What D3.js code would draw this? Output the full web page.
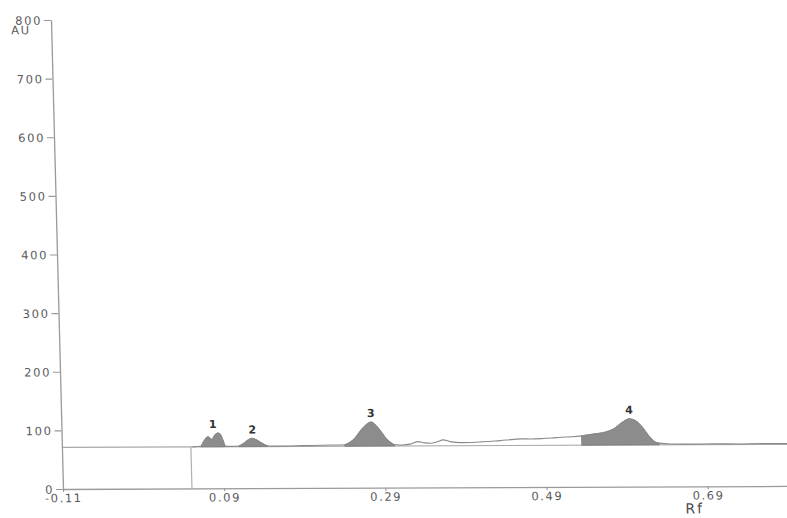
<!DOCTYPE html>
<html>
<head>
<meta charset="utf-8">
<script src="https://cdn.jsdelivr.net/npm/d3@7"></script>
<style>
  html, body { margin: 0; padding: 0; background: #fff; }
  svg { display: block; }
  .tick text, .lbl { font-family: "DejaVu Sans", sans-serif; }
</style>
</head>
<body>
<svg id="chart" width="787" height="518"></svg>
<script>
// Densitometric scan: absorbance (AU) against Rf
const rf = [0.052, 0.0625, 0.066, 0.0715, 0.0745, 0.0765, 0.079, 0.084, 0.087, 0.0905, 0.0925,
  0.100, 0.1096, 0.116, 0.122, 0.1267, 0.132, 0.139, 0.1456,
  0.160, 0.180, 0.200, 0.225, 0.241, 0.2514, 0.264, 0.2742, 0.2828, 0.2936, 0.303,
  0.312, 0.322, 0.332, 0.340, 0.348, 0.356, 0.363, 0.372, 0.385, 0.398, 0.410, 0.422,
  0.434, 0.447, 0.459, 0.472, 0.485, 0.498, 0.510, 0.523, 0.535,
  0.550, 0.564, 0.5766, 0.5856, 0.5945, 0.602, 0.610, 0.619, 0.625, 0.631,
  0.645, 0.670, 0.700, 0.730, 0.760, 0.790];
const au = [71, 72, 80, 88, 85, 83, 89, 94.5, 92, 80, 72,
  71.5, 72, 77, 83, 85, 82, 76, 72,
  71.5, 72, 72.5, 73, 73.5, 81.5, 102, 112, 102, 82, 73,
  72.7, 74, 78.3, 76, 75.4, 78, 81, 78, 76.3, 76.5, 77.3, 78.5,
  79.4, 81, 82.2, 82, 82.5, 83.5, 84.8, 85.5, 86.9,
  90, 93, 99.8, 109.3, 115.6, 112.6, 102.3, 85.2, 76.7, 73.9,
  72.5, 72, 72.5, 72, 72.5, 72.5];

// Integrated peaks
const peakIds = ["1", "2", "3", "4"];
const peakStart = [0.0625, 0.1096, 0.241, 0.535];
const peakEnd = [0.0925, 0.1456, 0.303, 0.631];
const peakLabelRf = [0.0777, 0.1267, 0.2742, 0.5945];

const baselineAU = 71;
const applicationRf = 0.05;

const xTicks = [-0.11, 0.09, 0.29, 0.49, 0.69];
const yTicks = [0, 100, 200, 300, 400, 500, 600, 700, 800];
const xDomain = [-0.11, 0.79];
const yDomain = [0, 800];

const svg = d3.select("#chart");

const x = d3.scaleLinear().domain(xDomain).range([0, 725.4]);
const y = d3.scaleLinear().domain(yDomain).range([0, -469]);

// plot frame, slightly sheared like the printed page
const g = svg.append("g")
  .attr("transform", "translate(63,489) matrix(1,-0.0042,0.0256,1,0,0)");

const pts = rf.map((r, i) => ({ r, a: au[i] }));

// baseline
g.append("line")
  .attr("x1", x(xDomain[0])).attr("x2", x(xDomain[1]))
  .attr("y1", y(baselineAU)).attr("y2", y(baselineAU))
  .attr("stroke", "#a8a8a8").attr("stroke-width", 1.2);

// application position marker
g.append("line")
  .attr("x1", x(applicationRf)).attr("x2", x(applicationRf))
  .attr("y1", y(0)).attr("y2", y(baselineAU))
  .attr("stroke", "#b0b0b0").attr("stroke-width", 1.2);

// shaded peak areas
const area = d3.area()
  .x(d => x(d.r))
  .y0(y(baselineAU))
  .y1(d => y(d.a))
  .curve(d3.curveMonotoneX);

peakIds.forEach((id, i) => {
  const seg = pts.filter(d => d.r >= peakStart[i] - 1e-9 && d.r <= peakEnd[i] + 1e-9);
  g.append("path")
    .datum(seg)
    .attr("d", area)
    .attr("fill", "#8c8c8c")
    .attr("stroke", "#7a7a7a")
    .attr("stroke-width", 0.8);
});

// trace
const line = d3.line()
  .x(d => x(d.r))
  .y(d => y(d.a))
  .curve(d3.curveMonotoneX);

g.append("path")
  .datum(pts)
  .attr("d", line)
  .attr("fill", "none")
  .attr("stroke", "#8a8a8a")
  .attr("stroke-width", 1.1);

// axes
const fmtX = d => d.toFixed(2);
const yAxis = d3.axisLeft(y).tickValues(yTicks).tickSize(7).tickPadding(2).tickSizeOuter(0);
const xAxis = d3.axisBottom(x).tickValues(xTicks).tickFormat(fmtX).tickSize(3).tickPadding(2).tickSizeOuter(0);

const gy = g.append("g").call(yAxis);
const gx = g.append("g").call(xAxis);

[gy, gx].forEach(a => {
  a.select(".domain").attr("stroke", "#9a9a9a").attr("stroke-width", 1.3);
  a.selectAll(".tick line").attr("stroke", "#9a9a9a").attr("stroke-width", 1.1);
  a.selectAll(".tick text")
    .attr("fill", "#5a5a5a")
    .style("font-size", "11.5px")
    .style("letter-spacing", "1.6px");
});
gy.selectAll(".tick text").attr("dy", "0.36em");

// axis titles
g.append("text").attr("class", "lbl")
  .attr("x", -40).attr("y", y(800) + 14)
  .attr("fill", "#5a5a5a")
  .style("font-size", "11.5px").style("letter-spacing", "1.5px")
  .text("AU");

g.append("text").attr("class", "lbl")
  .attr("x", x(0.673)).attr("y", 27)
  .attr("text-anchor", "middle")
  .attr("fill", "#4a4a4a")
  .style("font-size", "14px").style("letter-spacing", "2px")
  .text("Rf");

// peak numbers
peakIds.forEach((id, i) => {
  const seg = pts.filter(d => d.r >= peakStart[i] && d.r <= peakEnd[i]);
  const top = d3.max(seg, d => d.a);
  g.append("text").attr("class", "lbl")
    .attr("x", x(peakLabelRf[i]))
    .attr("y", y(top) - 5)
    .attr("text-anchor", "middle")
    .attr("fill", "#333")
    .style("font-size", "11px")
    .style("font-weight", "bold")
    .text(id);
});
</script>
</body>
</html>
